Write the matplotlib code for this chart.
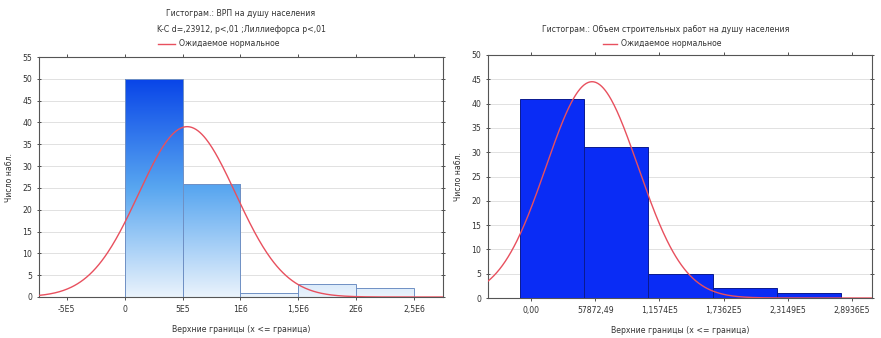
"""
Two Statistica-style histograms with expected normal curves.
"""
import numpy as np
import matplotlib.pyplot as plt
from matplotlib.colors import LinearSegmentedColormap

# left chart: GRP per capita
left_edges = [0, 5e5, 1e6, 1.5e6, 2e6, 2.5e6]
left_counts = [50, 26, 1, 3, 2]
left_ticks = [-5e5, 0, 5e5, 1e6, 1.5e6, 2e6, 2.5e6]
left_ticklabels = ['-5E5', '0', '5E5', '1E6', '1,5E6', '2E6', '2,5E6']
left_mean, left_sd = 5.4e5, 4.19e5

# right chart: construction per capita
right_step = 57872.49
right_ticks = [0, 57872.49, 115744.98, 173617.47, 231489.96, 289362.45]
right_ticklabels = ['0,00', '57872,49', '1,1574E5', '1,7362E5', '2,3149E5', '2,8936E5']
right_counts = [41, 31, 5, 2, 1]
right_offset = -9900
right_mean, right_sd = 55000, 41500

FS = 5.6
RED = '#e8505e'

plt.rcParams['font.family'] = ['DejaVu Sans']

fig = plt.figure(figsize=(8.81, 3.38), dpi=100)


def style_axes(ax, ymax):
    ax.set_ylim(0, ymax)
    ax.set_yticks(range(0, ymax + 1, 5))
    ax.yaxis.grid(True, color='#dcdcdc', linewidth=0.6)
    ax.set_axisbelow(True)
    ax.tick_params(labelsize=FS, length=2.5, width=0.6, colors='#333333',
                   top=True, right=True, direction='out')
    ax.tick_params(axis='y', which='both', right=True, direction='inout')
    for s in ax.spines.values():
        s.set_linewidth(0.8)
        s.set_color('#555555')
    ax.set_ylabel('Число набл.', fontsize=FS, color='#333333', labelpad=6)
    ax.set_xlabel('Верхние границы (x <= граница)', fontsize=FS, color='#333333', labelpad=8)


def normal_curve(ax, mean, sd, n, width, xmin, xmax):
    xs = np.linspace(xmin, xmax, 400)
    ys = n * width / (sd * np.sqrt(2 * np.pi)) * np.exp(-0.5 * ((xs - mean) / sd) ** 2)
    ax.plot(xs, ys, color=RED, linewidth=1.0, zorder=5)


# ---- left ----
ax1 = fig.add_axes([39 / 881, 1 - 297 / 338, 404 / 881, 240 / 338])
xmin1, xmax1 = -7.4e5, 2.75e6
ax1.set_xlim(xmin1, xmax1)
style_axes(ax1, 55)
cmap = LinearSegmentedColormap.from_list('g', ['#eaf3fc', '#58a6f0', '#0844e8'])
grad = np.linspace(0, 1, 256).reshape(-1, 1)
for i, c in enumerate(left_counts):
    x0, x1 = left_edges[i], left_edges[i + 1]
    bar = ax1.bar(x0, c, width=x1 - x0, align='edge', facecolor='none',
                  edgecolor='#6f90c4', linewidth=0.7, zorder=3)[0]
    im = ax1.imshow(grad, cmap=cmap, aspect='auto', origin='lower',
                    extent=[x0, x1, 0, 50], vmin=0, vmax=1, zorder=2)
    im.set_clip_path(bar)
ax1.set_xlim(xmin1, xmax1)
ax1.set_ylim(0, 55)
ax1.set_xticks(left_ticks)
ax1.set_xticklabels(left_ticklabels)
normal_curve(ax1, left_mean, left_sd, sum(left_counts), 5e5, xmin1, xmax1)

fig.text(241 / 881, 1 - 14 / 338, 'Гистограм.: ВРП на душу населения',
         ha='center', va='center', fontsize=FS, color='#333333')
fig.text(241 / 881, 1 - 29 / 338, 'K-C d=,23912, p<,01 ;Лиллиефорса p<,01',
         ha='center', va='center', fontsize=FS, color='#333333')
fig.lines.append(plt.Line2D([158 / 881, 175 / 881], [1 - 44 / 338] * 2,
                            color=RED, linewidth=1.0, transform=fig.transFigure))
fig.text(179 / 881, 1 - 44 / 338, 'Ожидаемое нормальное',
         ha='left', va='center', fontsize=FS, color='#333333')

# ---- right ----
ax2 = fig.add_axes([488 / 881, 1 - 298 / 338, 384 / 881, 243 / 338])
xmin2, xmax2 = -38750, 307250
ax2.set_xlim(xmin2, xmax2)
style_axes(ax2, 50)
lefts = [right_offset + i * right_step for i in range(len(right_counts))]
ax2.bar(lefts, right_counts, width=right_step, align='edge',
        color='#0a2cf5', edgecolor='#0a1a90', linewidth=0.7, zorder=3)
ax2.set_xticks(right_ticks)
ax2.set_xticklabels(right_ticklabels)
normal_curve(ax2, right_mean, right_sd, sum(right_counts), right_step, xmin2, xmax2)

fig.text(666 / 881, 1 - 29 / 338, 'Гистограм.: Объем строительных работ на душу населения',
         ha='center', va='center', fontsize=FS, color='#333333')
fig.lines.append(plt.Line2D([603 / 881, 617 / 881], [1 - 44 / 338] * 2,
                            color=RED, linewidth=1.0, transform=fig.transFigure))
fig.text(621 / 881, 1 - 44 / 338, 'Ожидаемое нормальное',
         ha='left', va='center', fontsize=FS, color='#333333')

fig.savefig('out.png', dpi=100)
